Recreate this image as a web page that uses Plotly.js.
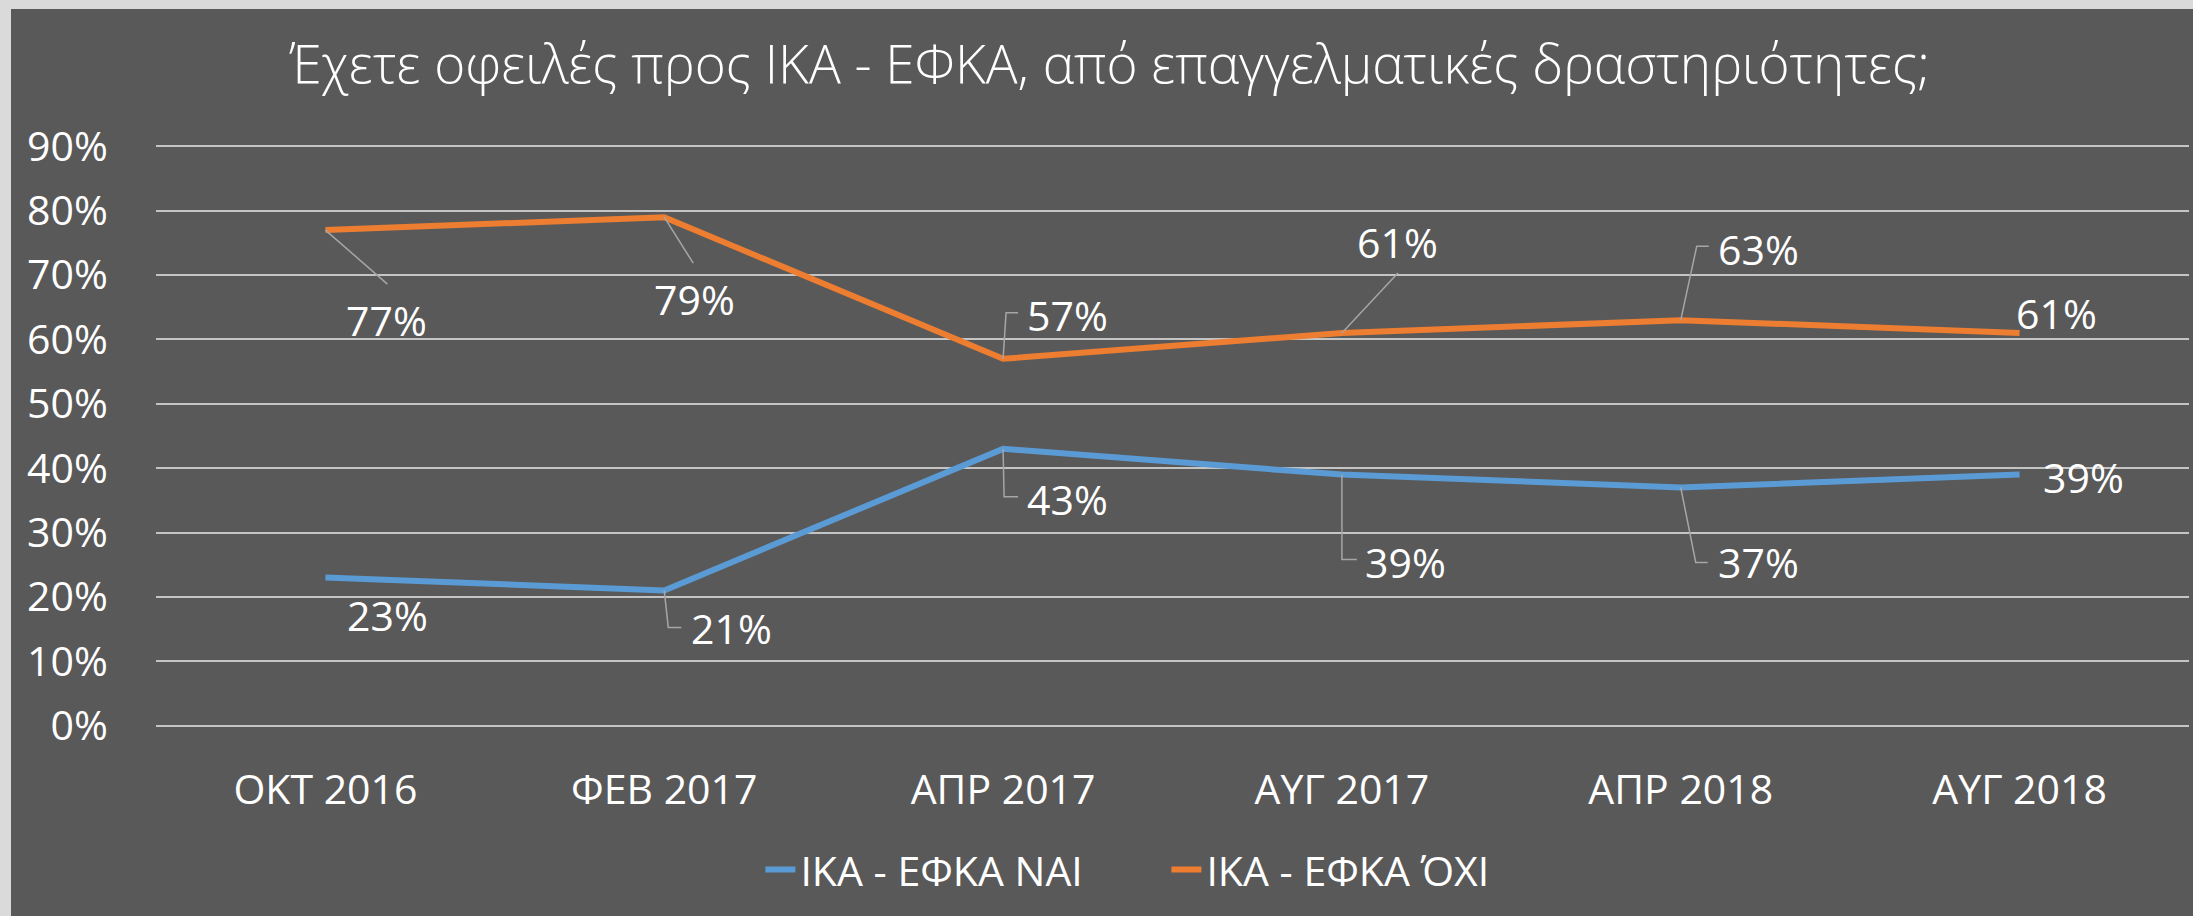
<!DOCTYPE html>
<html>
<head>
<meta charset="utf-8">
<script src="https://cdn.plot.ly/plotly-3.0.1.min.js"></script>
<style>html,body{margin:0;padding:0;background:#dadada;}#chart{width:2193px;height:916px;}</style>
</head>
<body>
<div id="chart"></div>
<script>
// ---- data ----
const categories = ["ΟΚΤ 2016", "ΦΕΒ 2017", "ΑΠΡ 2017", "ΑΥΓ 2017", "ΑΠΡ 2018", "ΑΥΓ 2018"];
const seriesNames = ["ΙΚΑ - ΕΦΚΑ ΝΑΙ", "ΙΚΑ - ΕΦΚΑ ΌΧΙ"];
const valuesYes = [0.23, 0.21, 0.43, 0.39, 0.37, 0.39];
const valuesNo  = [0.77, 0.79, 0.57, 0.61, 0.63, 0.61];
const titleText = "Έχετε οφειλές προς ΙΚΑ - ΕΦΚΑ, από επαγγελματικές δραστηριότητες;";

// ---- label placement (pixel offsets from point, y downward) ----
const labelOffYes = [[62, 37], [67, 38], [64, 50], [64, 87], [78, 75], [64, 2]];
const labelOffNo  = [[61, 90], [30, 82], [64, -44], [56, -91], [78, -71], [37, -20]];
// leader paths as pixel points relative to data point (y downward); null = none
const leaderYes = [null, [[0,0],[4,37],[17,37]], [[0,0],[1,48],[15,48]], [[0,0],[0,85],[15,85]], [[0,0],[15,75],[27,75]], null];
const leaderNo  = [[[0,0],[62,54]], [[0,0],[29,46]], [[0,0],[3,-46],[15,-46]], [[0,0],[56,-60]], [[0,0],[16,-74],[28,-74]], null];

const BLUE = "#5B9BD5", ORANGE = "#ED7D31";
const FONT = "'Open Sans', 'Noto Sans', sans-serif";

const traces = [
  {x: categories, y: valuesYes, name: seriesNames[0], type: "scatter", mode: "lines",
   line: {color: BLUE, width: 6}},
  {x: categories, y: valuesNo, name: seriesNames[1], type: "scatter", mode: "lines",
   line: {color: ORANGE, width: 6}}
];

const annotations = [];
const shapes = [];
function addLabels(vals, offs, leaders) {
  vals.forEach((v, i) => {
    annotations.push({
      x: categories[i], y: v, xref: "x", yref: "y",
      text: Math.round(v * 100) + "%", showarrow: false,
      xshift: offs[i][0], yshift: -offs[i][1],
      xanchor: "center", yanchor: "middle",
      font: {family: FONT, size: 41, color: "#ffffff"}
    });
    const L = leaders[i];
    if (L) {
      const path = L.map((p, k) => (k === 0 ? "M" : "L") + p[0] + "," + (-p[1])).join(" ");
      shapes.push({
        type: "path", xref: "x", yref: "y",
        xsizemode: "pixel", ysizemode: "pixel",
        xanchor: categories[i], yanchor: v,
        path: path, line: {color: "#a6a6a6", width: 1.5}
      });
    }
  });
}
addLabels(valuesYes, labelOffYes, leaderYes);
addLabels(valuesNo, labelOffNo, leaderNo);

// background panel (light border at top/left)
shapes.unshift({
  type: "rect", xref: "paper", yref: "paper", layer: "below",
  x0: (11 - 156) / 2033, x1: 1.01, y0: -0.4, y1: (732 - 9) / 592,
  fillcolor: "#595959", line: {width: 0}
});

const layout = {
  width: 2193, height: 916,
  paper_bgcolor: "#dadada", plot_bgcolor: "rgba(0,0,0,0)",
  margin: {l: 156, r: 4, t: 140, b: 184},
  title: {text: titleText, x: 0.506, xanchor: "center", y: 0.93, yanchor: "middle",
          font: {family: FONT, size: 53, color: "#ffffff", weight: 300}},
  xaxis: {type: "category", range: [-0.5, 5.5], showgrid: false, zeroline: false, showline: false,
          ticks: "outside", ticklen: 22, tickcolor: "rgba(0,0,0,0)",
          tickfont: {family: FONT, size: 41, color: "#ffffff"}},
  yaxis: {range: [-0.01, 0.91], tickvals: [0, 0.1, 0.2, 0.3, 0.4, 0.5, 0.6, 0.7, 0.8, 0.9],
          tickformat: ".0%", showgrid: true, gridcolor: "#c4c4c4", gridwidth: 2,
          zeroline: false, showline: false,
          ticks: "outside", ticklen: 39, tickcolor: "rgba(0,0,0,0)",
          tickfont: {family: FONT, size: 41, color: "#ffffff"}},
  showlegend: true,
  legend: {orientation: "h", x: 0.497, xanchor: "center", y: -0.233, yanchor: "middle",
           entrywidth: 361, entrywidthmode: "pixels",
           font: {family: FONT, size: 41, color: "#ffffff"}, bgcolor: "rgba(0,0,0,0)"},
  annotations: annotations,
  shapes: shapes
};

Plotly.newPlot("chart", traces, layout, {displayModeBar: false, responsive: false});
</script>
</body>
</html>
